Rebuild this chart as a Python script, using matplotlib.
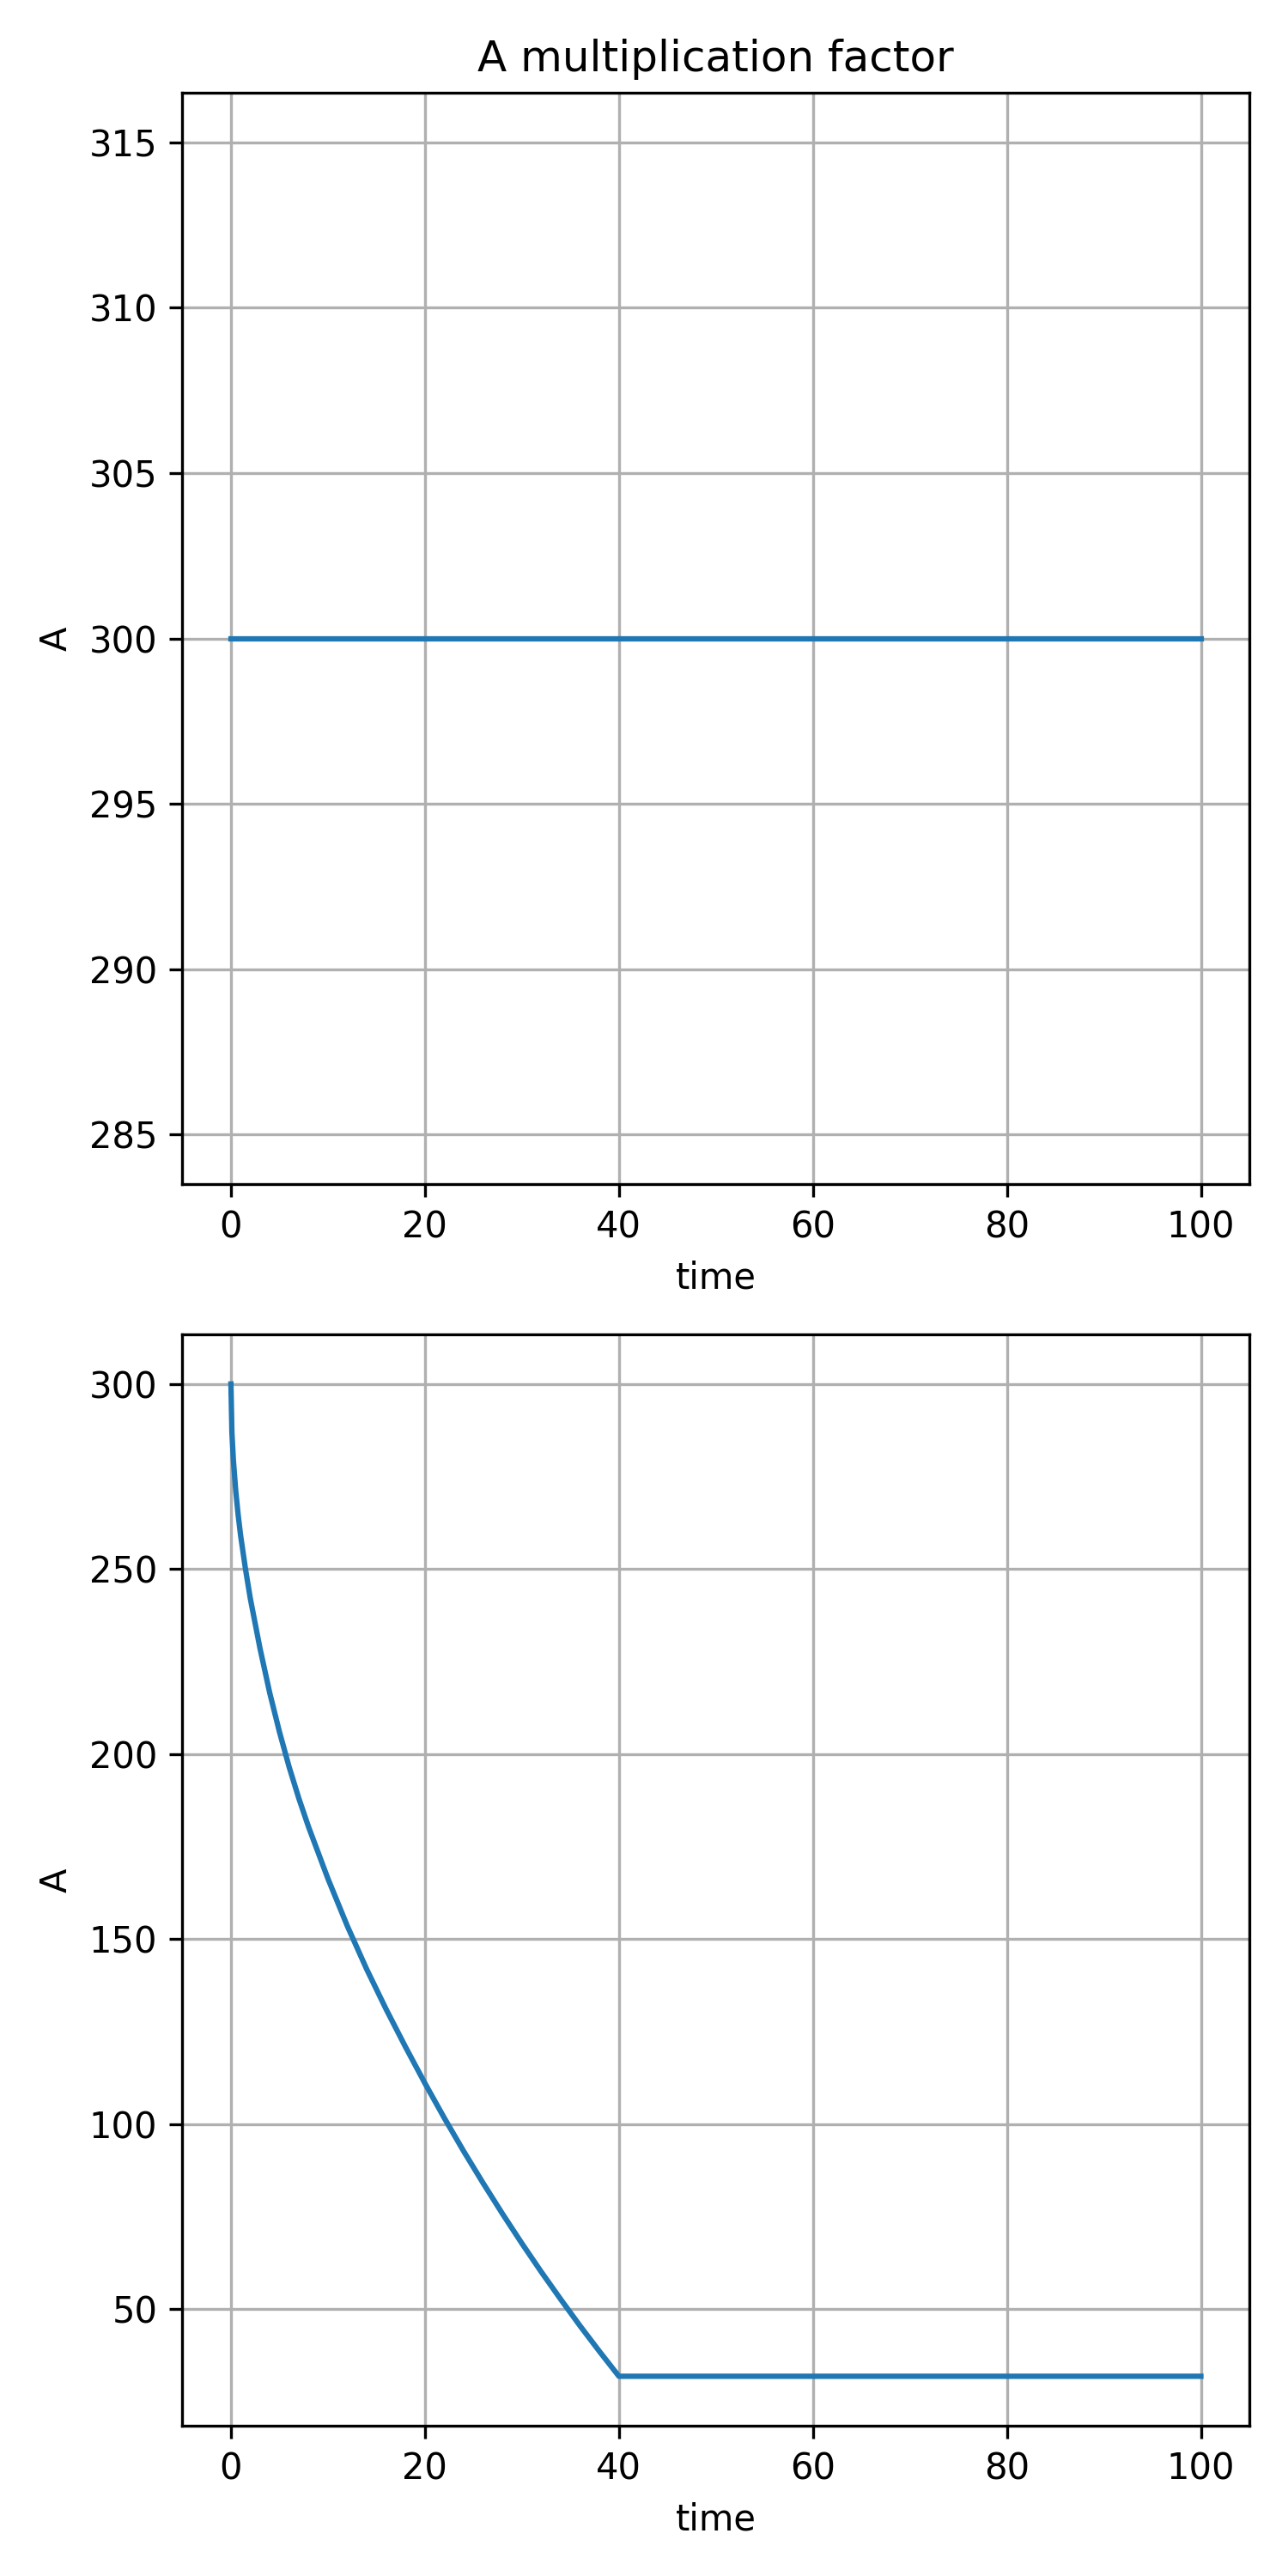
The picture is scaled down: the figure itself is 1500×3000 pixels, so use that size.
import matplotlib
matplotlib.use("Agg")
import matplotlib.pyplot as plt

# constant case
time_const = [0, 100]
a_const = [300, 300]

# decaying case
time_decay = [0, 0.1, 0.25, 0.5, 0.75, 1, 1.5, 2, 3, 4, 5, 6, 7, 8, 10, 12, 14, 16,
              18, 20, 22, 24, 26, 28, 30, 32, 34, 36, 38, 40, 100]
a_decay = [300, 287, 279.5, 271, 264.5, 259, 250, 242, 228.5, 216.5, 206, 196.5, 188,
           180.3, 166.3, 153.5, 141.8, 131, 120.8, 111, 101.6, 92.6, 84, 75.7, 67.7,
           60, 52.6, 45.4, 38.5, 31.8, 31.8]

fig, (ax1, ax2) = plt.subplots(2, 1, figsize=(5, 10), dpi=300)

ax1.plot(time_const, a_const)
ax1.set_title("A multiplication factor")
ax1.set_xlabel("time")
ax1.set_ylabel("A")
ax1.grid(True)

ax2.plot(time_decay, a_decay)
ax2.set_xlabel("time")
ax2.set_ylabel("A")
ax2.grid(True)

plt.tight_layout()
plt.savefig("out.png", dpi=300)
